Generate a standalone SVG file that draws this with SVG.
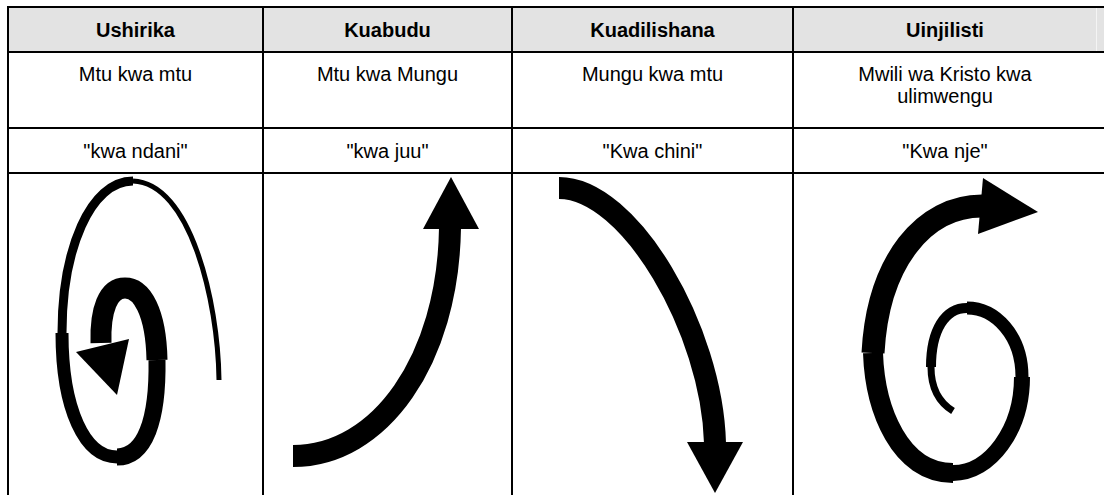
<svg xmlns="http://www.w3.org/2000/svg" width="1104" height="495" viewBox="0 0 1104 495">
<style>
.grid{stroke:#000;stroke-width:2;fill:none}
.hd{font-family:"Liberation Sans",Arial,sans-serif;font-size:20px;font-weight:bold;fill:#000;text-anchor:middle}
.tx{font-family:"Liberation Sans",Arial,sans-serif;font-size:20px;fill:#000;text-anchor:middle}
.s{fill:none;stroke:#000;stroke-linecap:butt}
.hf{fill:#000}
</style>
<rect x="8" y="7" width="1096" height="45" fill="#e3e3e3"/>
<line x1="1096.5" y1="8" x2="1096.5" y2="51" stroke="#f4f4f4" stroke-width="1"/>
<g id="grid" class="grid">
<line x1="7" y1="7" x2="1104" y2="7"/>
<line x1="7" y1="52" x2="1104" y2="52"/>
<line x1="7" y1="128" x2="1104" y2="128"/>
<line x1="7" y1="173" x2="1104" y2="173"/>
<line x1="8" y1="6" x2="8" y2="495"/>
<line x1="263" y1="6" x2="263" y2="495"/>
<line x1="512" y1="6" x2="512" y2="495"/>
<line x1="793" y1="6" x2="793" y2="495"/>
</g>
<g id="col1">
<text class="hd" x="135.5" y="37">Ushirika</text>
<text class="tx" x="135.5" y="81">Mtu kwa mtu</text>
<text class="tx" x="135.5" y="158">"kwa ndani"</text>
<g id="spiral1">
<path class="s" stroke-width="5" d="M219,380 C218,300 190,183 133,181"/>
<path class="s" stroke-width="9" d="M133,181 C90,181 62,250 62,333"/>
<path class="s" stroke-width="13" d="M62,333 C62,410 85,457 117,457"/>
<path class="s" stroke-width="17" d="M117,457 C145,457 158,420 157,360"/>
<path class="s" stroke-width="21" d="M157,360 C156,312 142,288 125,288 C108,288 100,310 101,343"/>
<polygon class="hf" points="76,352 129,339 117,395"/>
</g>
</g>
<g id="col2">
<text class="hd" x="387.5" y="37">Kuabudu</text>
<text class="tx" x="387.5" y="81">Mtu kwa Mungu</text>
<text class="tx" x="387.5" y="158">"kwa juu"</text>
<g id="arrow2">
<path class="s" stroke-width="22" d="M293,456 C380,456 448,360 450,228"/>
<polygon class="hf" points="423,229 479,229 451,177"/>
</g>
</g>
<g id="col3">
<text class="hd" x="652.5" y="37">Kuadilishana</text>
<text class="tx" x="652.5" y="81">Mungu kwa mtu</text>
<text class="tx" x="652.5" y="158">"Kwa chini"</text>
<g id="arrow3">
<path class="s" stroke-width="22" d="M559,188 C630,188 712,330 715,443"/>
<polygon class="hf" points="687,442 743,442 715,493"/>
</g>
</g>
<g id="col4">
<text class="hd" x="945" y="37">Uinjilisti</text>
<text class="tx" x="945" y="81">Mwili wa Kristo kwa</text>
<text class="tx" x="945" y="103">ulimwengu</text>
<text class="tx" x="945" y="158">"Kwa nje"</text>
<g id="spiral4">
<path class="s" stroke-width="23" d="M982,206 C925,206 878,260 873,353"/>
<path class="s" stroke-width="20" d="M873,353 C875,410 900,473 953,473"/>
<path class="s" stroke-width="16" d="M953,473 C990,473 1022,430 1022,377"/>
<path class="s" stroke-width="13" d="M1022,377 C1022,335 995,308 967,308"/>
<path class="s" stroke-width="10" d="M967,308 C945,308 931,330 931,367"/>
<path class="s" stroke-width="7" d="M931,367 C931,390 940,403 953,411"/>
<polygon class="hf" points="983,178 1038,212 978,234"/>
</g>
</g>
</svg>
